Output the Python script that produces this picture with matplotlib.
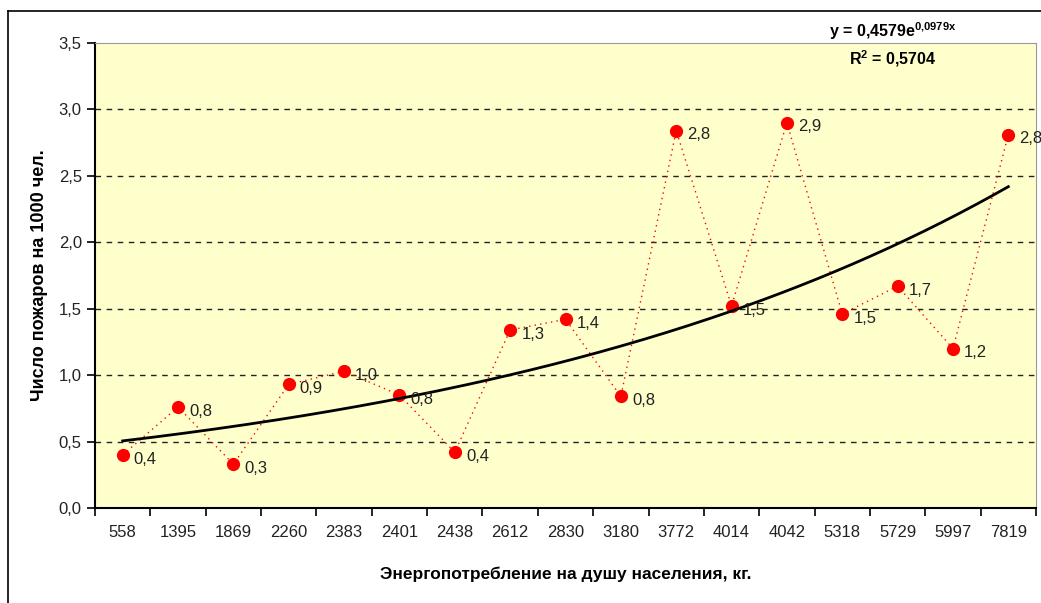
import numpy as np
from matplotlib import pyplot as plt
from matplotlib.lines import Line2D

plt.rcParams['font.family'] = ['Liberation Sans', 'DejaVu Sans']
plt.rcParams['mathtext.fontset'] = 'custom'
plt.rcParams['mathtext.rm'] = 'Liberation Sans'
plt.rcParams['mathtext.bf'] = 'Liberation Sans:bold'

# energy consumption per capita (category labels)
energy = ['558', '1395', '1869', '2260', '2383', '2401', '2438', '2612', '2830',
          '3180', '3772', '4014', '4042', '5318', '5729', '5997', '7819']
# fires per 1000 people
fires = [0.40, 0.76, 0.33, 0.93, 1.03, 0.85, 0.42, 1.34, 1.42,
         0.84, 2.84, 1.52, 2.90, 1.46, 1.67, 1.20, 2.81]
# exponential trend coefficients shown on the chart
trend_a = 0.4579
trend_b = 0.0979
r2 = 0.5704
yticks = [0.0, 0.5, 1.0, 1.5, 2.0, 2.5, 3.0, 3.5]

fig = plt.figure(figsize=(10.41, 6.03), dpi=100)
ax = fig.add_axes([95 / 1041, 95 / 603, 941 / 1041, 465 / 603])
ax.set_facecolor('#ffffcc')

x = np.arange(1, len(fires) + 1)
ax.plot(x, fires, color='red', lw=1.0, ls=(0, (1, 3)), zorder=3)
ax.plot(x, fires, 'o', color='red', ms=8.5, zorder=4)

xt = np.linspace(1, len(fires), 200)
ax.plot(xt, trend_a * np.exp(trend_b * xt), color='black', lw=2.0, zorder=5)

for xi, v in zip(x, fires):
    ax.annotate(('%.1f' % v).replace('.', ','), (xi, v), xytext=(8, -3),
                textcoords='offset points', ha='left', va='center',
                fontsize=12, color='#222222', zorder=6)

ax.set_xlim(0.5, len(fires) + 0.5)
ax.set_ylim(0, 3.5)
ax.set_yticks(yticks)
ax.set_yticklabels([('%.1f' % t).replace('.', ',') for t in yticks], fontsize=12, color='#222222')
ax.set_xticks(np.arange(0.5, len(fires) + 1))
ax.set_xticklabels([])
ax.set_xticks(x, minor=True)
ax.set_xticklabels(energy, minor=True, fontsize=12, color='#222222')
ax.tick_params(axis='x', which='minor', length=0, pad=12)
ax.tick_params(axis='x', which='major', length=6, width=1.2, direction='out')
ax.tick_params(axis='y', length=6, width=1.2, direction='out')

for t in yticks[1:-1]:
    ax.axhline(t, color='#222222', lw=1.0, ls=(0, (4, 4)), zorder=1)

ax.spines['left'].set_color('black')
ax.spines['left'].set_linewidth(1.5)
ax.spines['bottom'].set_color('black')
ax.spines['bottom'].set_linewidth(1.5)
ax.spines['top'].set_color('#999999')
ax.spines['right'].set_color('#999999')

ax.set_ylabel('Число пожаров на 1000 чел.', fontsize=13, fontweight='bold', labelpad=8)
ax.set_xlabel('Энергопотребление на душу населения, кг.', fontsize=12.5,
              fontweight='bold', labelpad=19)

fig.text(893 / 1041, 1 - 31 / 603, r'y = 0,4579e$^{\mathbf{0{,}0979x}}$', ha='center',
         va='center', fontsize=11.5, fontweight='bold')
fig.text(893 / 1041, 1 - 59 / 603, 'R$^{\\mathbf{2}}$ = ' + ('%.4f' % r2).replace('.', ','),
         ha='center', va='center', fontsize=11.5, fontweight='bold')

# outer chart frame
fig.add_artist(Line2D([8 / 1041, 8 / 1041], [0, 1 - 11 / 603], color='black', lw=1.2,
                      transform=fig.transFigure))
fig.add_artist(Line2D([8 / 1041, 1], [1 - 11 / 603, 1 - 11 / 603], color='black', lw=1.2,
                      transform=fig.transFigure))

fig.savefig('out.png', dpi=100)
